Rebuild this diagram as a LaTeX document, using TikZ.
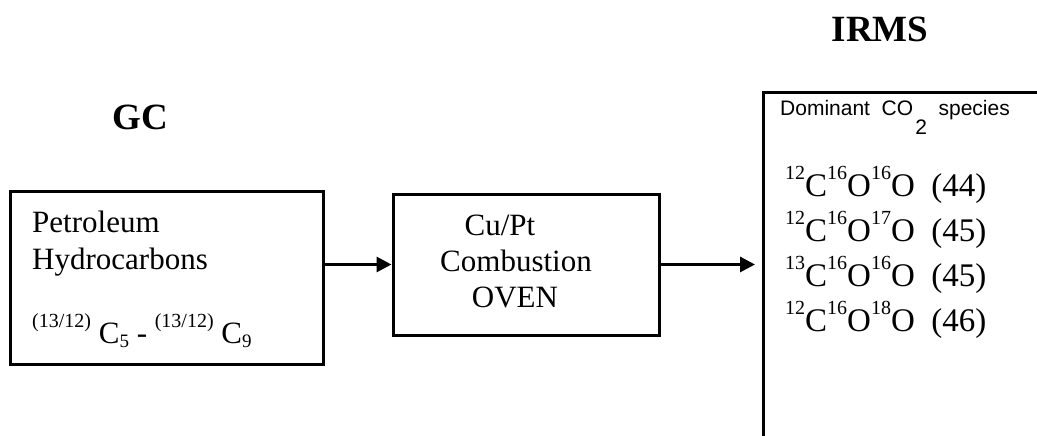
\documentclass[tikz,border=0pt]{standalone}
\usepackage{fontspec}
\setmainfont{Liberation Serif}
\newfontfamily\arialfont{Liberation Sans}
\usetikzlibrary{arrows.meta,positioning}
\tikzset{
  unitbox/.style={draw,line width=3pt,inner sep=0pt},
  flow/.style={line width=3pt,-{Triangle[length=15pt,width=15pt]}},
  txt/.style={inner sep=0pt,anchor=base west,font=\fontsize{31}{36}\selectfont},
  ctxt/.style={txt,anchor=base},
  spc/.style={inner sep=0pt,anchor=base west,font=\fontsize{33}{40}\selectfont},
  head/.style={inner sep=0pt,anchor=base,font=\fontsize{37}{44}\selectfont\bfseries},
}
\newcommand{\iso}[1]{\raisebox{.5em}{\fontsize{20}{20}\selectfont#1}}
\newcommand{\low}[1]{\raisebox{-4pt}{\fontsize{19}{19}\selectfont#1}}
\begin{document}
\begin{tikzpicture}[x=1pt,y=-1pt]
		\clip (0,0) rectangle (1037,436);
		% boxes
		\node[unitbox,minimum width=313pt,minimum height=173pt] (gc) at (166.5,277.5) {};
		\node[unitbox,minimum width=266pt,minimum height=141pt] (oven) at (526,264.5) {};
		\node[unitbox,anchor=north west,minimum width=400pt,minimum height=400pt] (ms) at (762,91) {};
		% titles
		\node[head] (gclabel) at (140,129) {GC};
		\node[head] (mslabel) at (880,42) {IRMS};
		% GC box
		\node[txt] (pet) at (32,232) {Petroleum};
		\node[txt] (hyd) at (32,269) {Hydrocarbons};
		\node[txt] (range) at (32,343) {\iso{(13/12)} C\low{5} - \iso{(13/12)} C\low{9}};
		% oven box
		\node[ctxt] (cupt) at (500,235) {Cu/Pt};
		\node[ctxt] (comb) at (516,271) {Combustion};
		\node[ctxt] (ovn) at (515,307) {OVEN};
		% IRMS box
		\node[inner sep=0pt,anchor=base west,font=\arialfont\fontsize{21}{24}\selectfont] (dom) at (780,115) {Dominant\ \ CO\hspace{2pt}\raisebox{-20pt}{2}\ \ species};
		\node[spc] (s1) at (785,196) {\iso{12}C\iso{16}O\iso{16}O\ \ (44)};
		\node[spc] (s2) at (785,241) {\iso{12}C\iso{16}O\iso{17}O\ \ (45)};
		\node[spc] (s3) at (785,286) {\iso{13}C\iso{16}O\iso{16}O\ \ (45)};
		\node[spc] (s4) at (785,331) {\iso{12}C\iso{16}O\iso{18}O\ \ (46)};
		% arrows
		\draw[flow] (gc.east |- oven.west) -- (oven.west);
		\draw[flow,shorten >=7pt] (oven.east) -- (ms.west |- oven.east);
\end{tikzpicture}
\end{document}
